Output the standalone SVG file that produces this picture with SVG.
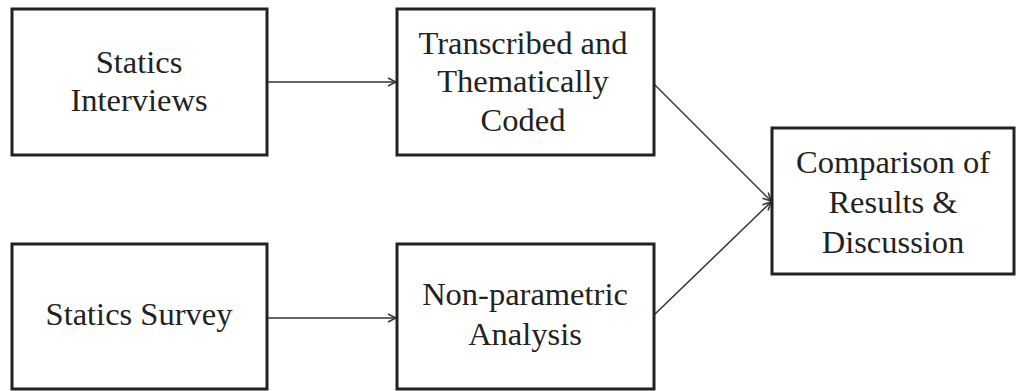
<svg xmlns="http://www.w3.org/2000/svg" width="1016" height="391" viewBox="0 0 1016 391">
<defs>
<style>
.box{fill:#fff;stroke:#222;stroke-width:3}
.lbl{font-family:"Liberation Serif","Times New Roman",serif;font-size:32.5px;fill:#222;text-anchor:middle}
.conn{stroke:#333;stroke-width:1.5;fill:none;marker-end:url(#ah)}
</style>
<marker id="ah" viewBox="0 0 10 10" refX="9" refY="5" markerWidth="10" markerHeight="10" markerUnits="userSpaceOnUse" orient="auto">
<path d="M1,1 L9,5 L1,9" fill="none" stroke="#333" stroke-width="1.5"/>
</marker>
</defs>
<rect width="1016" height="391" fill="#fff"/>
<g id="connectors">
<line class="conn" x1="267" y1="82" x2="396" y2="82"/>
<line class="conn" x1="267" y1="318" x2="396" y2="318"/>
<line class="conn" x1="654" y1="84" x2="771" y2="201"/>
<line class="conn" x1="654" y1="315" x2="771" y2="202"/>
</g>
<g id="interviews">
<rect class="box" x="12" y="9" width="255" height="146"/>
<text class="lbl" x="139" y="73">Statics</text>
<text class="lbl" x="139" y="111">Interviews</text>
</g>
<g id="transcribed">
<rect class="box" x="397" y="9" width="257" height="146"/>
<text class="lbl" x="523" y="54">Transcribed and</text>
<text class="lbl" x="523" y="92">Thematically</text>
<text class="lbl" x="523" y="131">Coded</text>
</g>
<g id="survey">
<rect class="box" x="12" y="244" width="255" height="145"/>
<text class="lbl" x="139" y="325">Statics Survey</text>
</g>
<g id="nonparametric">
<rect class="box" x="397" y="244" width="257" height="145"/>
<text class="lbl" x="525" y="305">Non-parametric</text>
<text class="lbl" x="525" y="345">Analysis</text>
</g>
<g id="comparison">
<rect class="box" x="772" y="128" width="242" height="146"/>
<text class="lbl" x="893" y="173">Comparison of</text>
<text class="lbl" x="893" y="213">Results &amp;</text>
<text class="lbl" x="893" y="253">Discussion</text>
</g>
</svg>
